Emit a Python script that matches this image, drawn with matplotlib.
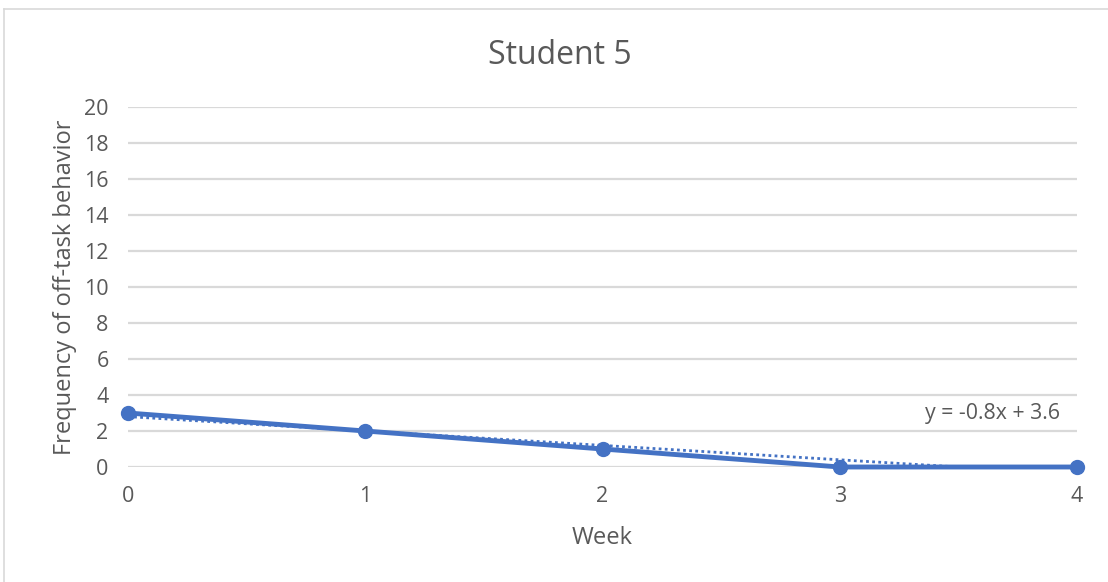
import numpy as np
import matplotlib.pyplot as plt
from matplotlib.lines import Line2D

weeks = [0, 1, 2, 3, 4]
freq = [3, 2, 1, 0, 0]
y_ticks = [0, 2, 4, 6, 8, 10, 12, 14, 16, 18, 20]
trend_label = "y = -0.8x + 3.6"

blue = "#4472C4"
grey_txt = "#595959"
grid_col = "#D9D9D9"

plt.rcParams['font.family'] = ['Open Sans', 'DejaVu Sans']

fig = plt.figure(figsize=(11.08, 5.82), dpi=100)
ax = fig.add_axes([128/1108, 1 - 467/582, (1077 - 128)/1108, (467 - 107)/582])

# linear trendline from the data
slope, icpt = np.polyfit(weeks, freq, 1)
xt = np.array([weeks[0], weeks[-1]])
ax.plot(xt, slope*xt + icpt, color=blue, lw=2, ls=(0, (1, 1.2)), zorder=3)

ax.plot(weeks, freq, color=blue, lw=3.5, marker='o', ms=10, zorder=4,
        clip_on=False)

ax.set_xlim(0, 4)
ax.set_ylim(0, 20)
ax.set_xticks(weeks)
ax.set_yticks(y_ticks)
ax.grid(axis='y', color=grid_col, lw=1.6)
ax.set_axisbelow(True)
for s in ax.spines.values():
    s.set_visible(False)
ax.tick_params(length=0, labelsize=15.5, colors=grey_txt)
ax.tick_params(axis='x', pad=14)
ax.tick_params(axis='y', pad=14)

# title is centred on the whole chart area, not the plot area
fig.text(560/1108, 1 - 55/582, "Student 5", fontsize=23, color=grey_txt,
         ha='center', va='center')
ax.set_xlabel("Week", fontsize=17, color=grey_txt, labelpad=13)
ax.set_ylabel("Frequency of off-task behavior", fontsize=17, color=grey_txt,
              labelpad=5)

ax.text(3.93, 3.0, trend_label, ha='right', va='center', fontsize=15.3,
        color=grey_txt)

# chart border
fig.add_artist(Line2D([4/1108, 4/1108], [0, 1 - 9/582], color="#D9D9D9", lw=1.2))
fig.add_artist(Line2D([4/1108, 1], [1 - 9/582, 1 - 9/582], color="#D9D9D9", lw=1.2))

fig.savefig("out.png", dpi=100)
